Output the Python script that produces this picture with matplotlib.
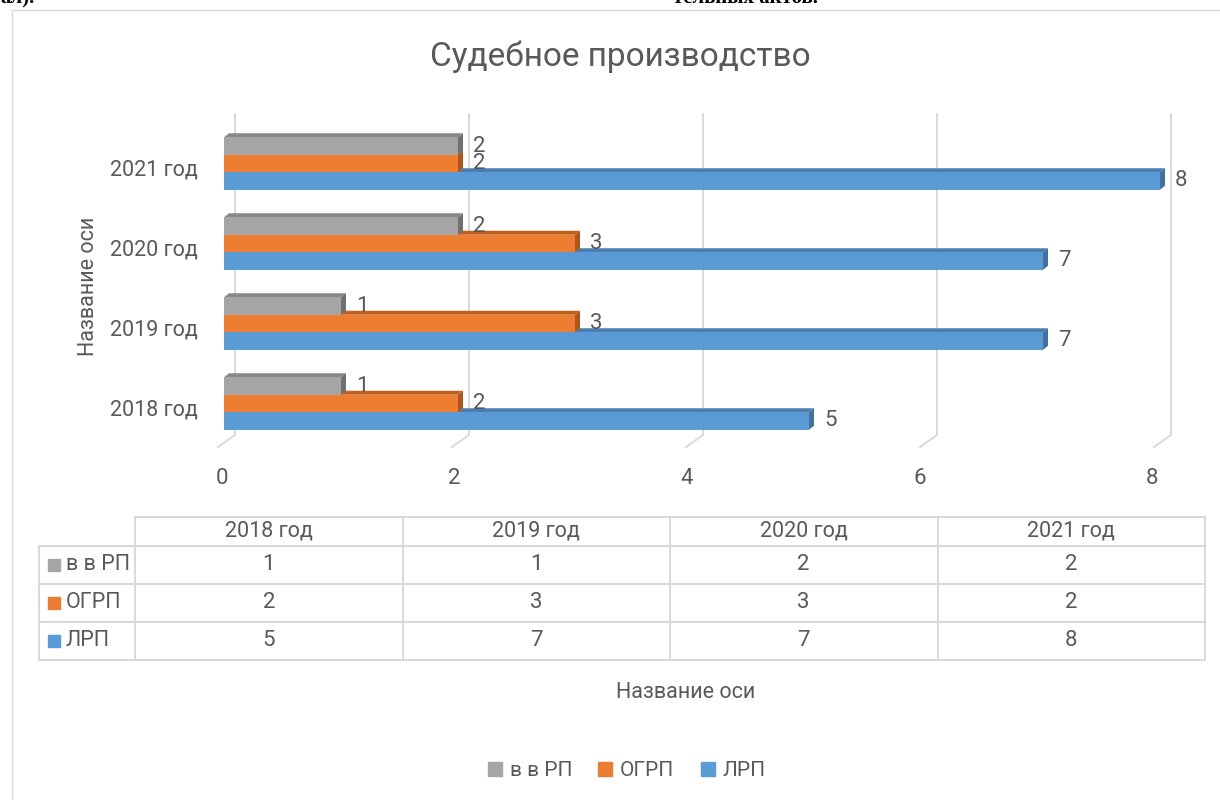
import numpy as np
import matplotlib
matplotlib.use('Agg')
import matplotlib.pyplot as plt
from matplotlib.patches import Polygon, Rectangle
from matplotlib.lines import Line2D

plt.rcParams['font.family'] = ['Roboto', 'DejaVu Sans']

years = ['2018 год', '2019 год', '2020 год', '2021 год']
series = ['в в РП', 'ОГРП', 'ЛРП']
vvrp = [1, 1, 2, 2]
ogrp = [2, 3, 3, 2]
lrp = [5, 7, 7, 8]
x_ticks = [0, 2, 4, 6, 8]

# front, top, side colours
col_vvrp = ('#a5a5a5', '#888888', '#707070')
col_ogrp = ('#ed7d31', '#c0601f', '#b0561c')
col_lrp = ('#5b9bd5', '#4a7eb0', '#41719c')
txt = '#595959'
grid_c = '#d9d9d9'

W, H = 1220, 800
fig = plt.figure(figsize=(W / 100, H / 100), dpi=100)

# overlay in pixel coords for frame and data table
ov = fig.add_axes([0, 0, 1, 1])
ov.set_xlim(0, W)
ov.set_ylim(H, 0)
ov.axis('off')
ov.add_patch(Rectangle((12, 10), W, H, fill=False, ec=grid_c, lw=1))
# bits of the document text above the chart, cut by the top edge
ov.text(0, 3, 'ал).', family='Liberation Serif', fontsize=15, weight='bold', va='baseline')
ov.text(673, 3, 'тельных актов.', family='Liberation Serif', fontsize=15, weight='bold', va='baseline')

# main plot: bar front x px = 224 + 117 v ; y px = 403.5 - 80 d
px_u, py_u = 117.0, 80.0
left, right, top, bottom = 200, 1200, 80, 455
ax = fig.add_axes([left / W, 1 - bottom / H, (right - left) / W, (bottom - top) / H])
ax.patch.set_alpha(0)
ax.set_xlim((left - 224) / px_u, (right - 224) / px_u)
ax.set_ylim((403.5 - bottom) / py_u, (403.5 - top) / py_u)
for s in ax.spines.values():
    s.set_visible(False)

# gridlines on back wall with floor diagonal
back_dx, front_dx = 11 / px_u, -6 / px_u
y_top, y_back, y_front = (403.5 - 114) / py_u, (403.5 - 435) / py_u, (403.5 - 447) / py_u
for v in x_ticks:
    ax.plot([v + back_dx, v + back_dx, v + front_dx], [y_top, y_back, y_front],
            color=grid_c, lw=1.4, zorder=0, solid_joinstyle='miter')

h = 17.5 / py_u
dx, dy = 5 / px_u, 4 / py_u
ypos = np.arange(len(years))


def bar3d(vals, off, cols, z):
    for i, v in enumerate(vals):
        y = ypos[i] + off
        ax.add_patch(Polygon([(0, y + h / 2), (v, y + h / 2), (v + dx, y + h / 2 + dy),
                              (dx, y + h / 2 + dy)], closed=True, fc=cols[1], ec='none', zorder=z))
        ax.add_patch(Polygon([(v, y - h / 2), (v, y + h / 2), (v + dx, y + h / 2 + dy),
                              (v + dx, y - h / 2 + dy)], closed=True, fc=cols[2], ec='none', zorder=z))
        ax.text(v + 15 / px_u, y, str(v), va='center', ha='left', fontsize=16, color=txt,
                zorder=10)
    ax.barh(ypos + off, vals, height=h, color=cols[0], zorder=z + 0.5)


bar3d(lrp, -h, col_lrp, 2)
bar3d(ogrp, 0, col_ogrp, 3)
bar3d(vvrp, h, col_vvrp, 4)

ax.set_yticks(ypos - 0.05)
ax.set_yticklabels(years, fontsize=15.5, color=txt)
ax.set_xticks([(222 + v * 116.25 - 224) / px_u for v in x_ticks])
ax.set_xticklabels([str(v) for v in x_ticks], fontsize=16, color=txt)
ax.tick_params(axis='y', length=0, pad=1.5)
ax.tick_params(axis='x', length=0, pad=9)

ov.text(88, 286, 'Название оси', rotation=90, ha='center', va='center', fontsize=15.5, color=txt)
ov.text(686, 692, 'Название оси', ha='center', va='center', fontsize=15.5, color=txt)
ov.text(620, 57, 'Судебное производство', ha='center', va='center', fontsize=24, color=txt)

# data table
cols_x = [135, 402.5, 670, 937.5, 1205]
rows_y = [517, 546, 584, 622, 660]
tl = dict(color=grid_c, lw=1.4)
ov.plot([cols_x[0], cols_x[-1]], [rows_y[0]] * 2, **tl)
for yy in rows_y[1:]:
    ov.plot([39, cols_x[-1]], [yy] * 2, **tl)
ov.plot([39, 39], [rows_y[1], rows_y[-1]], **tl)
for xx in cols_x:
    ov.plot([xx, xx], [rows_y[0], rows_y[-1]], **tl)
for j, yr in enumerate(years):
    cx = (cols_x[j] + cols_x[j + 1]) / 2
    ov.text(cx, (rows_y[0] + rows_y[1]) / 2, yr, ha='center', va='center', fontsize=15.5, color=txt)
table_rows = [(series[0], vvrp, col_vvrp[0]), (series[1], ogrp, col_ogrp[0]), (series[2], lrp, col_lrp[0])]
for r, (name, vals, c) in enumerate(table_rows):
    cy = (rows_y[r + 1] + rows_y[r + 2]) / 2
    ov.add_patch(Rectangle((48, cy - 6), 12, 12, color=c))
    ov.text(66, cy, name, ha='left', va='center', fontsize=15.5, color=txt)
    for j, v in enumerate(vals):
        cx = (cols_x[j] + cols_x[j + 1]) / 2
        ov.text(cx, cy, str(v), ha='center', va='center', fontsize=16, color=txt)

handles = [Line2D([], [], marker='s', ls='', color=c[0], markersize=10) for c in (col_vvrp, col_ogrp, col_lrp)]
fig.legend(handles, series, ncol=3, loc='center', bbox_to_anchor=(626 / W, 1 - 771 / H),
           frameon=False, fontsize=15, labelcolor=txt, handlelength=0.8, handletextpad=0.3,
           columnspacing=1.2)

fig.savefig('out.png', dpi=100)
